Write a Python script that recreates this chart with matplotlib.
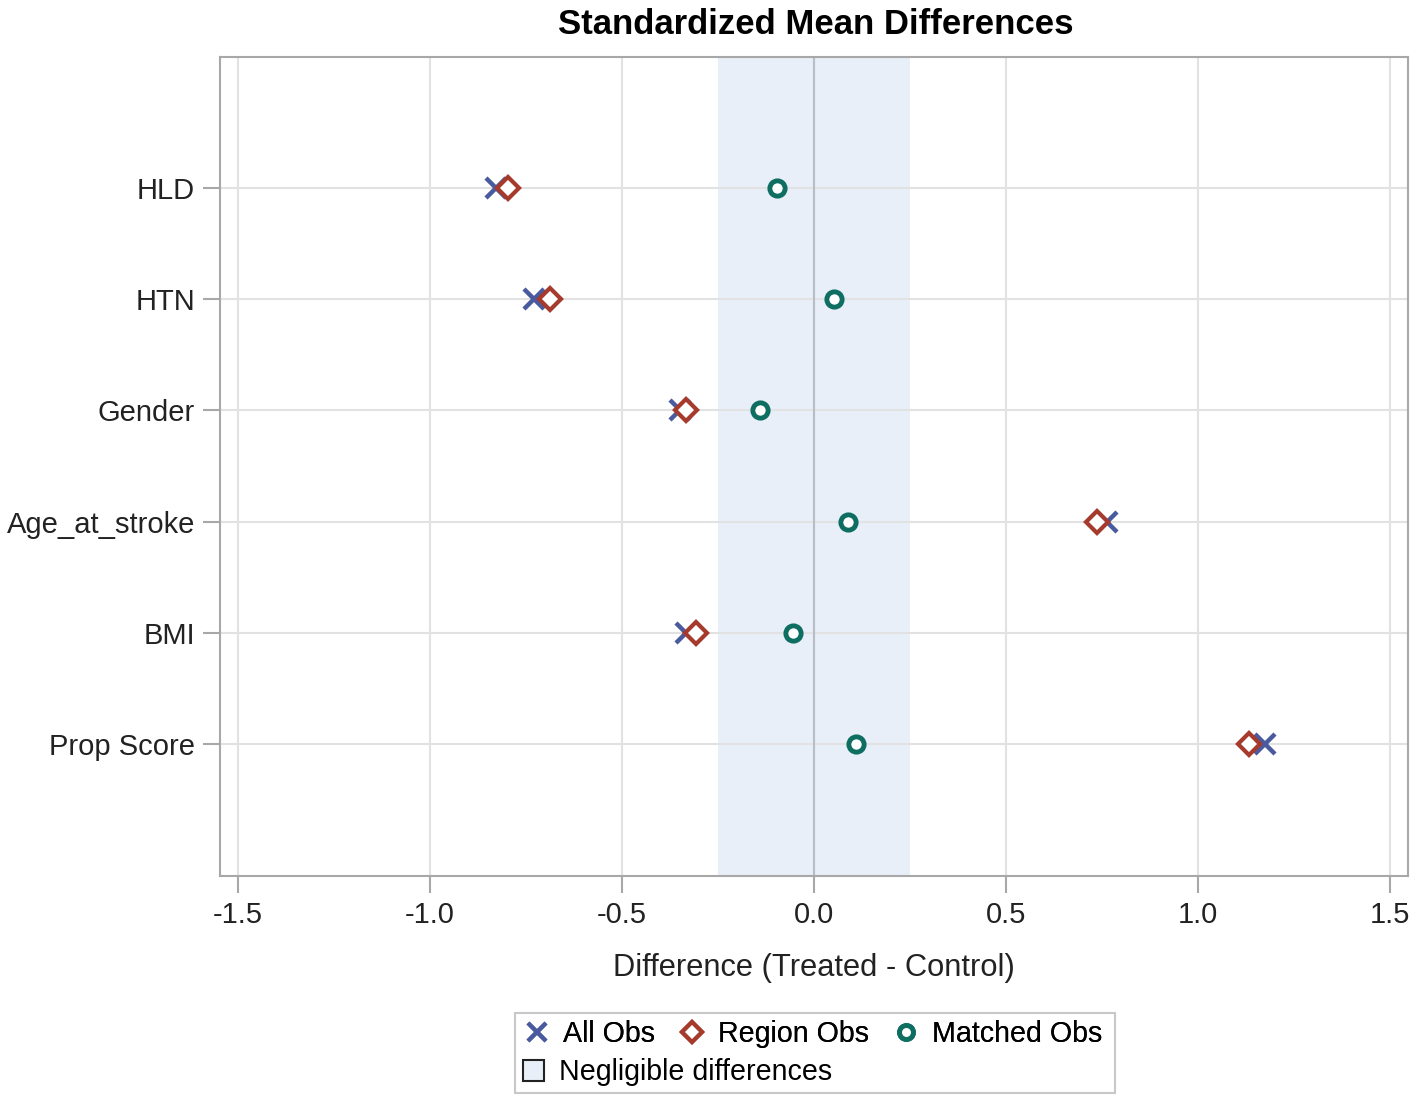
import numpy as np
import matplotlib.pyplot as plt
from matplotlib.lines import Line2D
from matplotlib.patches import Patch, Rectangle

plt.rcParams['font.family'] = ['Liberation Sans', 'DejaVu Sans']

# ── data ──────────────────────────────────────────────────────────────────────
variables   = ["HLD", "HTN", "Gender", "Age_at_stroke", "BMI", "Prop Score"]
all_obs     = [-0.828, -0.729, -0.349, 0.763, -0.333, 1.174]
region_obs  = [-0.797, -0.688, -0.333, 0.737, -0.307, 1.133]
matched_obs = [-0.096, 0.052, -0.141, 0.089, -0.055, 0.109]
negligible  = (-0.25, 0.25)
xticks      = [-1.5, -1.0, -0.5, 0.0, 0.5, 1.0, 1.5]

c_all, c_reg, c_mat = "#4A5A9E", "#A63A2C", "#0E6E62"
band_col = "#E8EFF8"
frame_col = "#A8A8A8"

fig = plt.figure(figsize=(14.18, 11.02), dpi=100)
ax = fig.add_axes([220/1418, 1-876/1102, (1408-220)/1418, (876-57)/1102])

ypos = np.arange(len(variables))
ax.axvspan(*negligible, color=band_col, zorder=0, lw=0)
ax.axvline(0, color="#B8BEC8", lw=1.5, zorder=1)

ax.plot(all_obs, ypos, ls="none", marker="x", ms=14, mew=3.2, color=c_all, zorder=3)
ax.plot(region_obs, ypos, ls="none", marker="D", ms=11, mew=3, mfc="white",
        mec=c_reg, zorder=4)
ax.plot(matched_obs, ypos, ls="none", marker="o", ms=11, mew=3.5, mfc="white",
        mec=c_mat, zorder=5)

ax.set_xlim(-1.547, 1.547)
ax.set_ylim(len(variables) - 1 + 1.19, -1.18)
ax.set_xticks(xticks)
ax.set_xticklabels([f"{t:.1f}" for t in xticks])
ax.set_yticks(ypos)
ax.set_yticklabels(variables)
ax.grid(True, color="#E2E2E2", lw=1.5, zorder=0)
ax.set_axisbelow(True)
for s in ax.spines.values():
    s.set_color(frame_col)
    s.set_linewidth(1.5)
ax.tick_params(axis="both", colors=frame_col, length=12, width=1.5,
               labelsize=21, labelcolor="#222222", pad=6)
ax.set_xlabel("Difference (Treated - Control)", fontsize=22.2, color="#222222", labelpad=17)
fig.text(816/1418, 1-24/1102, "Standardized Mean Differences", ha="center", va="center",
         fontsize=25, fontweight="bold")

# ── legend ────────────────────────────────────────────────────────────────────
h1 = [Line2D([], [], ls="none", marker="x", ms=13, mew=3, color=c_all),
      Line2D([], [], ls="none", marker="D", ms=10, mew=3, mfc="white", mec=c_reg),
      Line2D([], [], ls="none", marker="o", ms=10, mew=3.5, mfc="white", mec=c_mat)]
leg1 = fig.legend(h1, ["All Obs", "Region Obs", "Matched Obs"], ncol=3, frameon=False,
                  loc="center left", bbox_to_anchor=(523/1418, 1-1034/1102),
                  fontsize=20.6, handlelength=1.0, handletextpad=0.4, columnspacing=0.8,
                  borderaxespad=0, borderpad=0)
leg2 = fig.legend([Patch(facecolor=band_col, edgecolor="#222222", lw=1.5)],
                  ["Negligible differences"], frameon=False,
                  loc="center left", bbox_to_anchor=(523/1418, 1-1072/1102),
                  fontsize=20.6, handlelength=0.75, handleheight=0.75, handletextpad=0.5,
                  borderaxespad=0, borderpad=0)
fig.add_artist(leg1)
fig.patches.append(Rectangle((515/1418, 1-1093/1102), 600/1418, 80/1102,
                             transform=fig.transFigure, fill=False,
                             edgecolor="#C8C8C8", lw=1.5))

fig.savefig("out.png", dpi=100)
